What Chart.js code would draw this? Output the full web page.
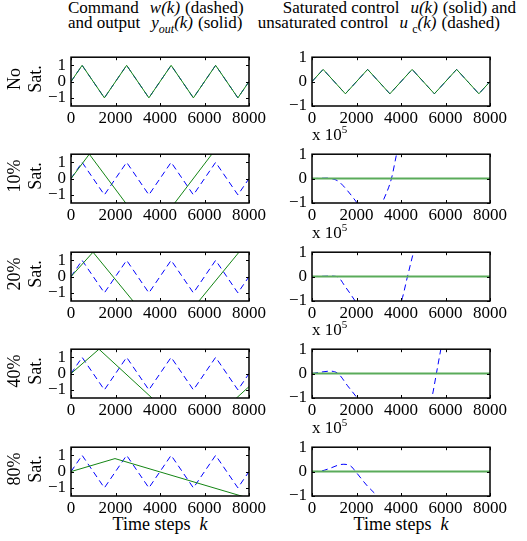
<!DOCTYPE html>
<html>
<head>
<meta charset="utf-8">
<script src="https://cdn.jsdelivr.net/npm/chart.js@4.4.0/dist/chart.umd.min.js"></script>
<style>
body{margin:0;background:#fff;width:527px;height:541px;position:relative;overflow:hidden;
     font-family:"Liberation Serif","Times New Roman",serif;color:#000}
.t{position:absolute;white-space:nowrap;line-height:1;font-size:17px}
.t sub{font-size:12px;vertical-align:-5px;line-height:0}
.t sup{font-size:11px;vertical-align:7px;line-height:0}
.g1{margin-left:11px}
.g2{margin-left:5px}
.rl{position:absolute;width:60px;height:42px;line-height:21px;font-size:18px;text-align:center;transform:rotate(-90deg)}
.xl{position:absolute;width:178px;text-align:center;font-size:18px;line-height:1}
canvas{position:absolute}
</style>
</head>
<body>

<div class="t" style="left:68px;top:-1px">Command<i class="g1">w(k)</i><span class="g2">(dashed)</span></div>
<div class="t" style="left:68px;top:14px">and output<i class="g1">y<sub>out</sub>(k)</i><span class="g2">(solid)</span></div>
<div class="t" style="right:11px;top:-1px">Saturated control<i class="g1">u(k)</i><span class="g2">(solid) and</span></div>
<div class="t" style="right:27px;top:14px">unsaturated control<i class="g1">u</i> <sub>c</sub><i>(k)</i><span class="g2">(dashed)</span></div>

<div class="xl" style="left:71px;top:515px">Time steps&nbsp; <i>k</i></div>
<div class="xl" style="left:312px;top:515px">Time steps&nbsp; <i>k</i></div>

<script>
// ===============================
// DATA
// ===============================
const kTicks = [0, 2000, 4000, 6000, 8000];
const outTicks = [-1, 0, 1];
const ctlTicks = [-1, 0, 1];
const rowNames = [["No", "Sat."], ["10%", "Sat."], ["20%", "Sat."], ["40%", "Sat."], ["80%", "Sat."]];

// command w(k): triangle wave corners
const wK = [0, 500, 1500, 2500, 3500, 4500, 5500, 6500, 7500, 8000];
const wVal = [0, 1, -1, 1, -1, 1, -1, 1, -1, 0];
// control without saturation
const uNoSatVal = [0, 0.5, -0.5, 0.5, -0.5, 0.5, -0.5, 0.5, -0.5, 0];

// output y_out(k) with saturation
const yOut10K = [0, 823, 3548, 8000];
const yOut10Val = [0, 1.5, -3.5, 4.5];
const yOut20K = [0, 990, 4270, 8000];
const yOut20Val = [0, 1.5, -3.97, 2.25];
const yOut40K = [0, 1258, 5530, 8000];
const yOut40Val = [0, 1.5, -3.88, -0.8];
const yOut80K = [0, 1977, 8000];
const yOut80Val = [0, 0.8, -1.64];

// saturated control u(k) (x 10^5)
const uSatK = [0, 8000];
const uSatVal = [0, 0];

// unsaturated control u_c(k) (x 10^5)
const uc10K = [0, 300, 700, 1000, 1200, 1600, 2030, 2400, 2750, 2980, 3160, 3570, 3800, 4000];
const uc10Val = [0, 0.01, 0.02, -0.03, -0.12, -0.5, -1, -1.45, -1.6, -1.45, -1, 0, 1, 1.8];
const uc20K = [0, 400, 800, 1130, 1500, 1940, 2500, 3000, 3500, 4020, 4290, 4560, 4800];
const uc20Val = [0, 0.01, 0.02, 0, -0.42, -1, -1.8, -2.1, -1.8, -1, 0, 1, 1.9];
const uc40K = [0, 400, 800, 1175, 1600, 2030, 3000, 4000, 4800, 5380, 5590, 5790, 6000];
const uc40Val = [0, 0.06, 0.1, 0, -0.5, -1, -2.3, -2.7, -2.2, -1, 0, 1, 2];
const uc80K = [0, 400, 700, 1400, 1750, 1960, 2450, 2920, 3300];
const uc80Val = [0, 0.02, 0.1, 0.3, 0.22, 0, -0.55, -1, -1.5];

// ===============================
// LAYOUT
// ===============================
const FRAME_W = 178, FRAME_H = 54;
const colLeft = [71, 312];
const rowTop = [52, 149, 247, 344, 442];
const PAD_L = 45, PAD_T = 10, PAD_R = 28, PAD_B = 26;

const GREEN = "#148514";
const GREEN_ZERO = "#5aab5a";
const BLUE = "#0000ff";
const FONT = {family: "'Liberation Serif', 'Times New Roman', serif", size: 17};

function pts(ks, vs) {
    return ks.map((k, i) => ({x: k, y: vs[i]}));
}

function minus(v) {
    return v < 0 ? "\u2212" + Math.abs(v) : String(v);
}

// frame with inward tick marks, matlab style
const framePlugin = {
    id: "frame",
    afterDraw(chart) {
        const {ctx, chartArea: a, scales} = chart;
        const x = scales.x, y = scales.y;
        ctx.save();
        ctx.strokeStyle = "#000";
        ctx.lineWidth = 1;
        ctx.beginPath();
        x.ticks.forEach(t => {
            const px = Math.round(x.getPixelForValue(t.value)) + 0.5;
            ctx.moveTo(px, a.bottom); ctx.lineTo(px, a.bottom - 3);
            ctx.moveTo(px, a.top); ctx.lineTo(px, a.top + 3);
        });
        y.ticks.forEach(t => {
            const py = Math.round(y.getPixelForValue(t.value)) + 0.5;
            ctx.moveTo(a.left, py); ctx.lineTo(a.left + 3, py);
            ctx.moveTo(a.right, py); ctx.lineTo(a.right - 3, py);
        });
        ctx.stroke();
        ctx.lineWidth = 1.5;
        ctx.strokeRect(a.left, a.top, a.right - a.left, a.bottom - a.top);
        ctx.restore();
    }
};

function solid(data, color, width) {
    return {data: data, borderColor: color, borderWidth: width || 1, pointRadius: 0, tension: 0, fill: false};
}

function dashed(data, smooth) {
    const ds = {data: data, borderColor: BLUE, borderWidth: 1, borderDash: [6, 4], pointRadius: 0, tension: 0, fill: false};
    if (smooth) ds.cubicInterpolationMode = "monotone";
    return ds;
}

function makePanel(col, row, yMin, yMax, yTicks, datasets) {
    const canvas = document.createElement("canvas");
    const w = PAD_L + FRAME_W + PAD_R, h = PAD_T + FRAME_H + PAD_B;
    canvas.width = w; canvas.height = h;
    canvas.style.left = (colLeft[col] - PAD_L) + "px";
    canvas.style.top = (rowTop[row] - PAD_T) + "px";
    canvas.style.width = w + "px"; canvas.style.height = h + "px";
    document.body.appendChild(canvas);

    new Chart(canvas, {
        type: "line",
        data: {datasets: datasets},
        options: {
            responsive: false,
            animation: false,
            layout: {padding: {left: 0, top: PAD_T, right: PAD_R, bottom: 0}},
            plugins: {legend: {display: false}, tooltip: {enabled: false}},
            scales: {
                x: {
                    type: "linear", min: 0, max: 8000,
                    grid: {display: false, drawTicks: false},
                    border: {display: false},
                    afterBuildTicks: s => { s.ticks = kTicks.map(v => ({value: v})); },
                    afterFit: s => { s.height = PAD_B; },
                    ticks: {color: "#000", font: FONT, padding: 2, autoSkip: false, maxRotation: 0, minRotation: 0,
                            callback: v => String(v)}
                },
                y: {
                    type: "linear", min: yMin, max: yMax,
                    grid: {display: false, drawTicks: false},
                    border: {display: false},
                    afterBuildTicks: s => { s.ticks = yTicks.map(v => ({value: v})); },
                    afterFit: s => { s.width = PAD_L; },
                    ticks: {color: "#000", font: FONT, padding: 5, callback: v => minus(v)}
                }
            }
        },
        plugins: [framePlugin]
    });
}

// ===============================
// PANELS
// ===============================
const outRows = [
    [wK, wVal], [yOut10K, yOut10Val], [yOut20K, yOut20Val], [yOut40K, yOut40Val], [yOut80K, yOut80Val]
];
const ucRows = [
    [wK, uNoSatVal], [uc10K, uc10Val], [uc20K, uc20Val], [uc40K, uc40Val], [uc80K, uc80Val]
];

outRows.forEach((r, i) => {
    makePanel(0, i, -1.5, 1.5, outTicks, [
        solid(pts(r[0], r[1]), GREEN),
        dashed(pts(wK, wVal), false)
    ]);
});

ucRows.forEach((r, i) => {
    const sat = i === 0 ? solid(pts(wK, uNoSatVal), GREEN) : solid(pts(uSatK, uSatVal), GREEN_ZERO, 2);
    makePanel(1, i, -1, 1, ctlTicks, [
        sat,
        dashed(pts(r[0], r[1]), i > 0)
    ]);
});

// row labels and exponent labels
rowNames.forEach((names, i) => {
    const d = document.createElement("div");
    d.className = "rl";
    d.style.left = "-5px";
    d.style.top = (rowTop[i] + FRAME_H / 2 - 21) + "px";
    d.innerHTML = names[0] + "<br>" + names[1];
    document.body.appendChild(d);

    if (i > 0) {
        const e = document.createElement("div");
        e.className = "t";
        e.style.left = colLeft[1] + "px";
        e.style.top = (rowTop[i] - 23) + "px";
        e.innerHTML = "x 10<sup>5</sup>";
        document.body.appendChild(e);
    }
});
</script>
</body>
</html>
